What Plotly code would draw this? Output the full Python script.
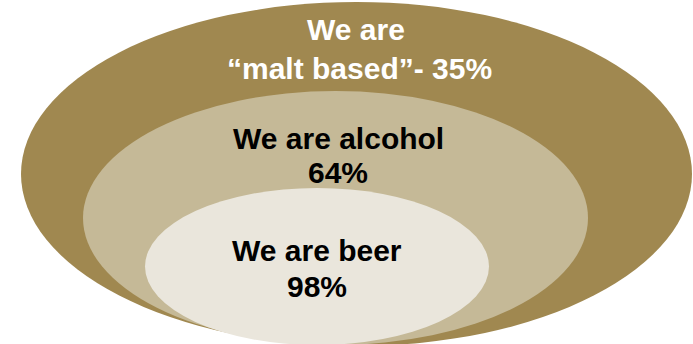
import plotly.graph_objects as go

# Data
categories = ["malt based", "alcohol", "beer"]
values = [35, 64, 98]
label_lines = [
    ["We are", "\u201cmalt based\u201d- 35%"],
    ["We are alcohol", "64%"],
    ["We are beer", "98%"],
]

# Layout (ellipse bounds in pixel space: x0, x1, y0(top), y1(bottom))
ellipses = [
    (21, 692, 2, 346),
    (83, 588, 91, 345),
    (145, 489, 188, 345),
]
fills = ["#A08850", "#C5B997", "#EAE6DC"]
text_colors = ["white", "black", "black"]
line_pos = [
    [(356, 29), (359, 68)],
    [(338, 138), (338, 172)],
    [(317, 250), (317, 286)],
]

W, H = 693, 344
fig = go.Figure()
fig.add_trace(go.Scatter(x=[0, W], y=[0, H], mode="markers", marker=dict(opacity=0), hoverinfo="skip", showlegend=False))

for (x0, x1, y0, y1), fc in zip(ellipses, fills):
    fig.add_shape(type="circle", xref="x", yref="y", x0=x0, x1=x1, y0=y0, y1=y1,
                  fillcolor=fc, line=dict(width=0), layer="below")

for lines, poss, tc in zip(label_lines, line_pos, text_colors):
    for txt, (tx, ty) in zip(lines, poss):
        fig.add_annotation(x=tx, y=ty, xref="x", yref="y", text="<b>" + txt + "</b>", showarrow=False,
                           font=dict(family="Liberation Sans, Arial", size=30, color=tc), align="center")

fig.update_xaxes(range=[0, W], visible=False, fixedrange=True)
fig.update_yaxes(range=[H, 0], visible=False, fixedrange=True)
fig.update_layout(width=W, height=H, margin=dict(l=0, r=0, t=0, b=0),
                  paper_bgcolor="white", plot_bgcolor="white", showlegend=False)
fig.write_html("out.html", config={"displayModeBar": False})
